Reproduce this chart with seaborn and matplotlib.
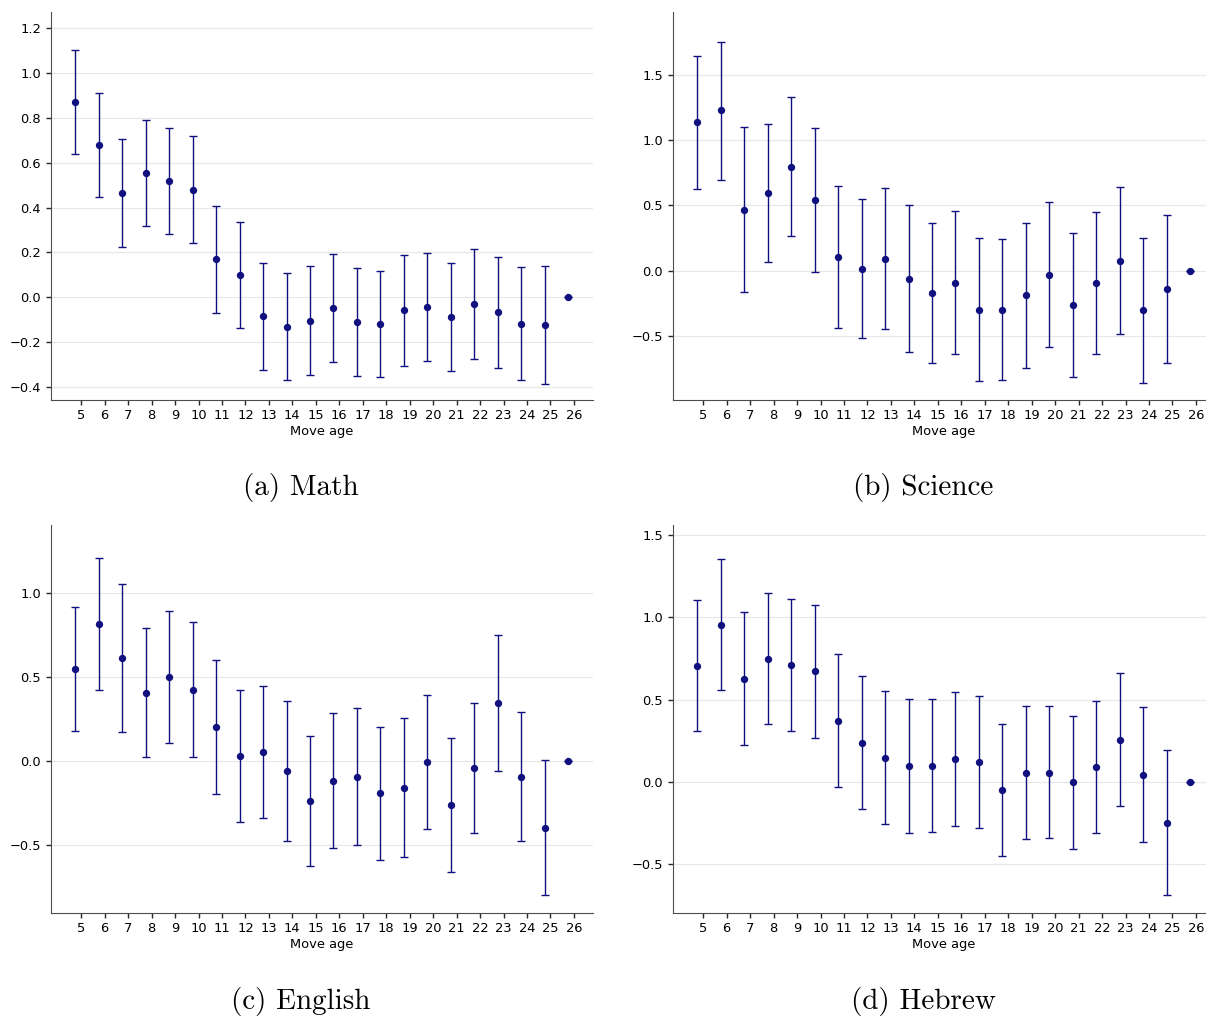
"""
Move-age coefficients per subject, 2x2 panel of estimates with 95% CIs.
"""

import numpy as np
import pandas as pd
import matplotlib
matplotlib.use("Agg")
import matplotlib.pyplot as plt
import seaborn as sns

# ── Data
ages = [5, 6, 7, 8, 9, 10, 11, 12, 13, 14, 15, 16, 17, 18, 19, 20, 21, 22, 23, 24, 25, 26]

math_est = [0.869, 0.679, 0.467, 0.555, 0.518, 0.479, 0.170, 0.100, -0.085, -0.132, -0.106,
            -0.048, -0.110, -0.119, -0.058, -0.043, -0.089, -0.031, -0.067, -0.118, -0.122, 0.0]
math_lo = [0.638, 0.448, 0.226, 0.320, 0.284, 0.241, -0.070, -0.137, -0.326, -0.371, -0.347,
           -0.289, -0.350, -0.356, -0.307, -0.286, -0.330, -0.275, -0.314, -0.371, -0.385, 0.0]
math_hi = [1.101, 0.911, 0.708, 0.790, 0.754, 0.719, 0.409, 0.336, 0.155, 0.109, 0.138,
           0.195, 0.131, 0.118, 0.190, 0.199, 0.153, 0.216, 0.180, 0.137, 0.138, 0.0]

science_est = [1.138, 1.228, 0.468, 0.596, 0.798, 0.545, 0.105, 0.015, 0.090, -0.061, -0.171,
               -0.095, -0.302, -0.302, -0.189, -0.033, -0.263, -0.095, 0.077, -0.304, -0.143, 0.0]
science_lo = [0.627, 0.698, -0.164, 0.066, 0.263, -0.008, -0.440, -0.519, -0.450, -0.624, -0.706,
              -0.642, -0.849, -0.839, -0.747, -0.588, -0.813, -0.639, -0.486, -0.862, -0.711, 0.0]
science_hi = [1.647, 1.754, 1.100, 1.123, 1.332, 1.095, 0.652, 0.550, 0.632, 0.506, 0.366,
              0.455, 0.251, 0.240, 0.368, 0.527, 0.289, 0.450, 0.642, 0.251, 0.427, 0.0]

english_est = [0.545, 0.812, 0.613, 0.405, 0.498, 0.423, 0.202, 0.030, 0.053, -0.059, -0.235,
               -0.117, -0.093, -0.192, -0.158, -0.006, -0.259, -0.040, 0.344, -0.093, -0.397, 0.0]
english_lo = [0.178, 0.423, 0.172, 0.022, 0.105, 0.022, -0.196, -0.360, -0.336, -0.474, -0.623,
              -0.514, -0.498, -0.589, -0.567, -0.403, -0.658, -0.427, -0.057, -0.474, -0.796, 0.0]
english_hi = [0.917, 1.206, 1.055, 0.789, 0.891, 0.826, 0.599, 0.421, 0.445, 0.358, 0.152,
              0.285, 0.316, 0.204, 0.255, 0.395, 0.140, 0.348, 0.749, 0.291, 0.004, 0.0]

hebrew_est = [0.708, 0.957, 0.628, 0.749, 0.712, 0.672, 0.371, 0.238, 0.147, 0.097, 0.099,
              0.137, 0.121, -0.050, 0.057, 0.057, -0.002, 0.091, 0.256, 0.044, -0.248, 0.0]
hebrew_lo = [0.313, 0.557, 0.224, 0.351, 0.313, 0.270, -0.030, -0.163, -0.254, -0.309, -0.303,
             -0.268, -0.279, -0.452, -0.347, -0.343, -0.406, -0.309, -0.147, -0.365, -0.688, 0.0]
hebrew_hi = [1.104, 1.358, 1.033, 1.146, 1.112, 1.076, 0.775, 0.644, 0.551, 0.505, 0.505,
             0.545, 0.523, 0.355, 0.464, 0.462, 0.404, 0.494, 0.662, 0.456, 0.195, 0.0]

captions = ["(a) Math", "(b) Science", "(c) English", "(d) Hebrew"]
panels = [
    (math_est, math_lo, math_hi),
    (science_est, science_lo, science_hi),
    (english_est, english_lo, english_hi),
    (hebrew_est, hebrew_lo, hebrew_hi),
]
ylims = [(-0.457, 1.274), (-0.99, 1.985), (-0.899, 1.403), (-0.793, 1.562)]
yticks = [np.arange(-0.4, 1.21, 0.2), [-0.5, 0.0, 0.5, 1.0, 1.5],
          [-0.5, 0.0, 0.5, 1.0], [-0.5, 0.0, 0.5, 1.0, 1.5]]

COLOR = "#10107f"
W, H = 1206, 1016

sns.set_style("ticks")
fig = plt.figure(figsize=(W / 100, H / 100), dpi=100)

# axes boxes in pixels: left, top, right, bottom
boxes = [(50.7, 11.7, 592.7, 399.7), (672.7, 11.7, 1214.7, 399.7),
         (50.7, 525.0, 592.7, 912.5), (672.7, 525.0, 1214.7, 912.5)]
cap_pos = [(301, 488), (923, 488), (301, 1001), (923, 1001)]

for i, (est, lo, hi) in enumerate(panels):
    l, t, r, b = boxes[i]
    ax = fig.add_axes([l / W, 1 - b / H, (r - l) / W, (b - t) / H])

    df = pd.DataFrame({"age": ages, "est": est, "lo": lo, "hi": hi})
    df["x"] = df["age"] - 0.25  # points sit a bit left of the tick
    err = np.vstack([df["est"] - df["lo"], df["hi"] - df["est"]])

    ax.errorbar(df["x"], df["est"], yerr=err, fmt="none", ecolor=COLOR,
                elinewidth=1.0, capsize=3, capthick=1.0, zorder=2)
    sns.scatterplot(data=df, x="x", y="est", color=COLOR, s=28, linewidth=0,
                    ax=ax, zorder=3)

    ax.set_xticks(ages)
    ax.set_xticklabels([str(a) for a in ages])
    ax.set_yticks(yticks[i])
    ax.set_ylim(*ylims[i])
    ax.yaxis.grid(True, color="0.91", linewidth=0.9)
    ax.set_axisbelow(True)
    ax.tick_params(labelsize=9.4, length=3.5, width=1.0, labelcolor="black")
    ax.set_xlabel("Move age", fontsize=9.4, labelpad=2, color="black")
    ax.set_ylabel("")
    for side in ("left", "bottom"):
        ax.spines[side].set_color("0.3")
    sns.despine(ax=ax)

    cx, cy = cap_pos[i]
    fig.text(cx / W, 1 - cy / H, captions[i], ha="center", va="center",
             fontfamily="cmr10", fontsize=21, color="black")

fig.savefig("out.png", dpi=100)
